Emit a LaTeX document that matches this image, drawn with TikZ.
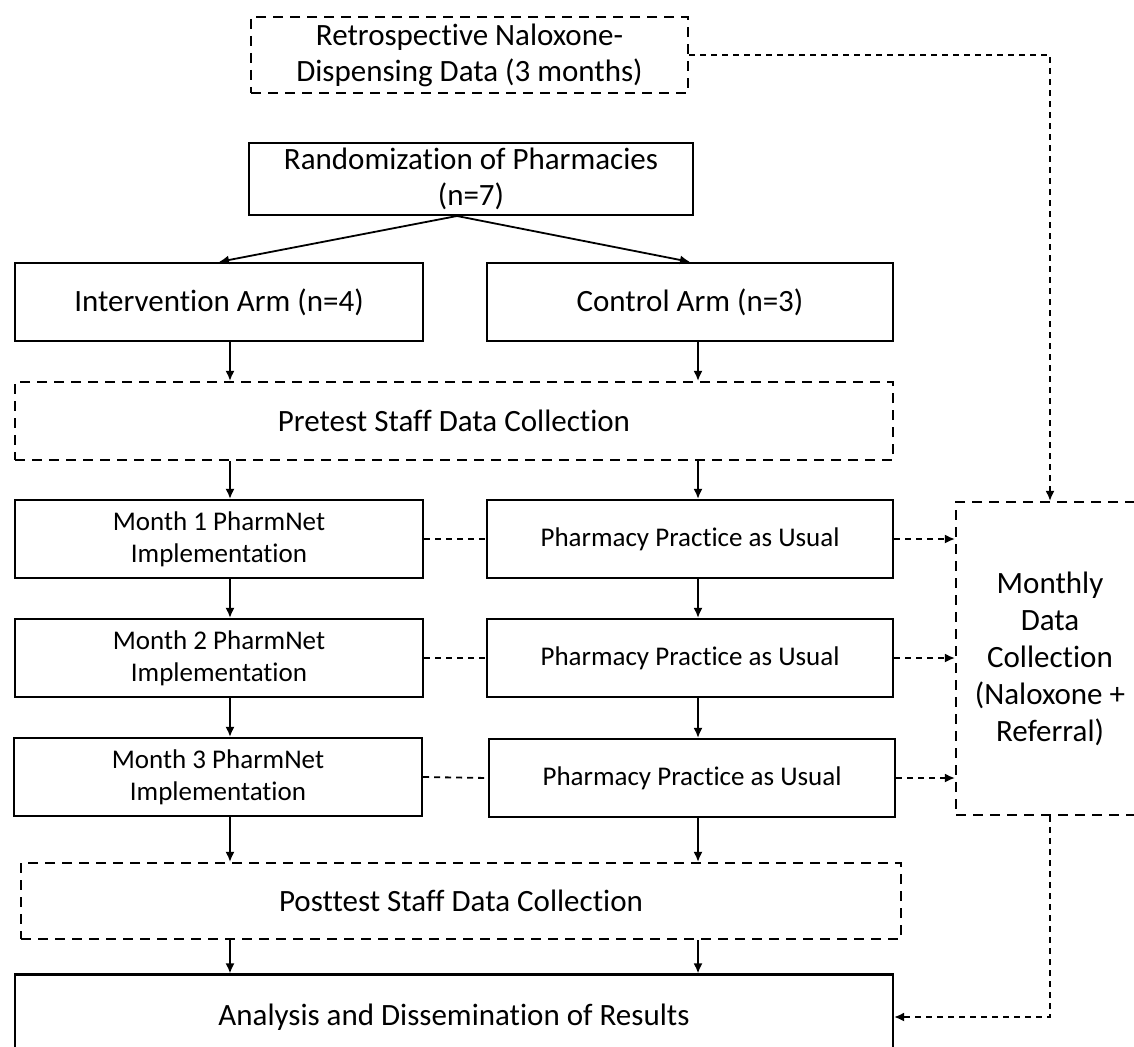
\documentclass[tikz,border=0pt]{standalone}
\usepackage{fontspec}
\setmainfont{Carlito}[Ligatures={NoCommon}]
\usetikzlibrary{arrows.meta,calc}
\begin{document}
\begin{tikzpicture}[x=1pt,y=-1pt,
  box/.style={draw,line width=2.2pt,minimum width=#1,inner sep=0pt,align=center,font=\fontsize{31}{36}\selectfont},
  sbox/.style={draw,line width=2.2pt,minimum width=#1,inner sep=0pt,align=center,font=\fontsize{27}{32}\selectfont},
  dbox/.style={box=#1,dash pattern=on 10pt off 7pt},
  arr/.style={line width=1.8pt,-{Latex[length=10pt,width=9pt]}},
  darr/.style={line width=1.8pt,dash pattern=on 6pt off 5pt,-{Latex[length=10pt,width=9pt]}},
  dline/.style={line width=1.8pt,dash pattern=on 6pt off 5pt}]
\useasboundingbox (0,0) rectangle (1134,1046);
\node[dbox=437pt,minimum height=76pt] (retro) at (469.5,55) {Retrospective Naloxone-\\Dispensing Data (3 months)};
\node[box=444pt,minimum height=72pt] (rand) at (471,179) {Randomization of Pharmacies\\(n=7)};
\node[box=408pt,minimum height=78pt] (ia) at (219,302) {Intervention Arm (n=4)};
\node[box=406pt,minimum height=78pt] (ca) at (690,302) {Control Arm (n=3)};
\node[dbox=878pt,minimum height=78pt] (pre) at (454,421) {Pretest Staff Data Collection};
\node[sbox=408pt,minimum height=78pt] (m1) at (219,539) {Month 1 PharmNet\\Implementation};
\node[sbox=406pt,minimum height=78pt] (p1) at (690,539) {Pharmacy Practice as Usual};
\node[sbox=408pt,minimum height=78pt] (m2) at (219,658) {Month 2 PharmNet\\Implementation};
\node[sbox=406pt,minimum height=78pt] (p2) at (690,658) {Pharmacy Practice as Usual};
\node[sbox=408pt,minimum height=78pt] (m3) at (218,777) {Month 3 PharmNet\\Implementation};
\node[sbox=406pt,minimum height=78pt] (p3) at (692,778) {Pharmacy Practice as Usual};
\node[dbox=880pt,minimum height=76pt] (post) at (461,901) {Posttest Staff Data Collection};
\node[box=878pt,minimum height=85pt] (ana) at (454,1017) {Analysis and Dissemination of Results};
\node[dbox=188pt,minimum height=313pt,font=\fontsize{31}{37}\selectfont] (mon) at (1050,658.5) {Monthly\\Data\\Collection\\(Naloxone +\\Referral)};
\coordinate (fan) at (457,216);
\coordinate (colL) at (230,0);
\coordinate (colR) at (698,0);
\draw[arr] (fan) -- (ia.north);
\draw[arr] (fan) -- (ca.north);
\draw[arr] (ia.south -| colL) -- (pre.north -| colL);
\draw[arr] (ca.south -| colR) -- (pre.north -| colR);
\draw[arr] (pre.south -| colL) -- (m1.north -| colL);
\draw[arr] (pre.south -| colR) -- (p1.north -| colR);
\draw[arr] (m1.south -| colL) -- (m2.north -| colL);
\draw[arr] (p1.south -| colR) -- (p2.north -| colR);
\draw[arr] (m2.south -| colL) -- (m3.north -| colL);
\draw[arr] (p2.south -| colR) -- (p3.north -| colR);
\draw[arr] (m3.south -| colL) -- (post.north -| colL);
\draw[arr] (p3.south -| colR) -- (post.north -| colR);
\draw[arr] (post.south -| colL) -- (ana.north -| colL);
\draw[arr] (post.south -| colR) -- (ana.north -| colR);
\draw[dline] (m1.east) -- (p1.west);
\draw[dline] (m2.east) -- (p2.west);
\draw[dline] (m3.east) -- (p3.west);
\draw[darr] (p1.east) -- (p1.east -| mon.west);
\draw[darr] (p2.east) -- (p2.east -| mon.west);
\draw[darr] (p3.east) -- (p3.east -| mon.west);
\draw[darr] (retro.east) -| (mon.north);
\draw[darr] (mon.south) |- (ana.east);
\end{tikzpicture}
\end{document}
